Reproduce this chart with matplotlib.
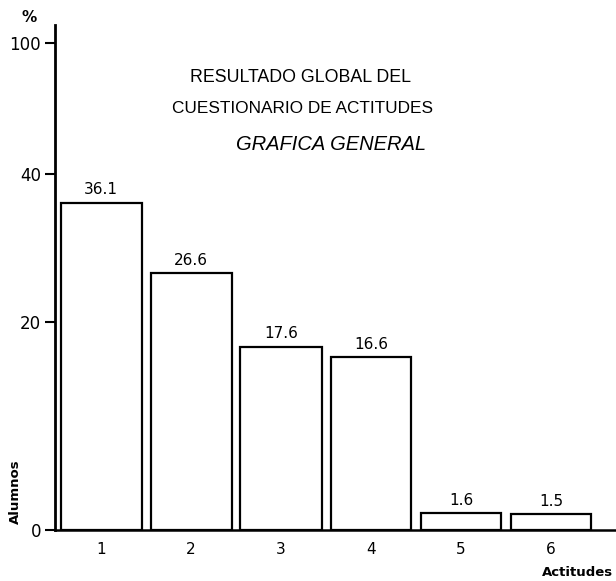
import numpy as np
import matplotlib.pyplot as plt

# data
actitudes = ["1", "2", "3", "4", "5", "6"]
porcentajes = [36.1, 26.6, 17.6, 16.6, 1.6, 1.5]
y_ticks = [0, 20, 40, 100]

# the hand drawn y axis is not linear: map tick values to pixel heights
knot_vals = [0, 20, 40, 100, 120]
knot_px = [0, 208, 356, 487, 531]


def fwd(v):
    return np.interp(v, knot_vals, knot_px)


def inv(p):
    return np.interp(p, knot_px, knot_vals)


W, H = 616, 581
fig = plt.figure(figsize=(W / 100, H / 100), dpi=100)
ax = fig.add_axes([55 / W, 51 / H, 1 - 55 / W, (530 - 25) / H])

pos = np.arange(1, len(actitudes) + 1)
ax.bar(pos, porcentajes, width=0.9, color="white", edgecolor="black", linewidth=1.6)

ax.set_yscale("function", functions=(fwd, inv))
ax.set_ylim(0, inv(505))
ax.set_xlim(1 - 46 / 90, 1 - 46 / 90 + 561 / 90)

for x, v in zip(pos, porcentajes):
    ax.annotate(f"{v}", (x, v), xytext=(0, 4), textcoords="offset points",
                ha="center", va="bottom", fontsize=11)

ax.set_yticks(y_ticks)
ax.set_yticklabels([str(t) for t in y_ticks], fontsize=12)
ax.tick_params(axis="y", length=7, width=1.5, pad=3)
ax.set_xticks(pos)
ax.set_xticklabels(actitudes, fontsize=11)
ax.tick_params(axis="x", length=0, pad=9)

for s in ["top", "right"]:
    ax.spines[s].set_visible(False)
ax.spines["left"].set_linewidth(2)
ax.spines["bottom"].set_linewidth(1.8)

fig.text(301 / W, 1 - 77 / H, "RESULTADO GLOBAL DEL", ha="center", va="center",
         fontsize=12.8, family="Liberation Sans")
fig.text(302 / W, 1 - 108 / H, "CUESTIONARIO DE ACTITUDES", ha="center", va="center",
         fontsize=12.4, family="Liberation Sans")
fig.text(331 / W, 1 - 145 / H, "GRAFICA GENERAL", ha="center", va="center",
         fontsize=14.5, family="Liberation Sans", style="italic")

fig.text(29 / W, 1 - 17 / H, "%", ha="center", va="center", fontsize=11, fontweight="bold")
fig.text(15 / W, 1 - 492 / H, "Alumnos", ha="center", va="center", rotation=90,
         fontsize=9.5, fontweight="bold")
fig.text(577 / W, 1 - 573 / H, "Actitudes", ha="center", va="center",
         fontsize=9.5, fontweight="bold")

fig.savefig("out.png", dpi=100)
